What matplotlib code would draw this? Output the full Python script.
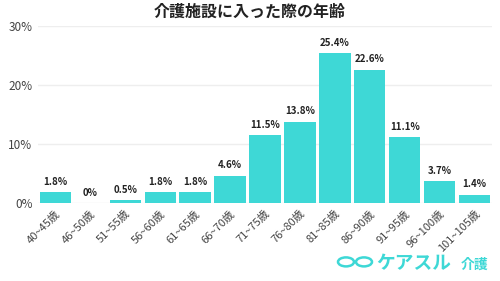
import matplotlib.pyplot as plt
from matplotlib.patches import Circle

plt.rcParams['font.family'] = ['Noto Sans CJK JP', 'DejaVu Sans']

labels = ['40~45歳', '46~50歳', '51~55歳', '56~60歳', '61~65歳', '66~70歳',
          '71~75歳', '76~80歳', '81~85歳', '86~90歳', '91~95歳', '96~100歳', '101~105歳']
values = [1.8, 0, 0.5, 1.8, 1.8, 4.6, 11.5, 13.8, 25.4, 22.6, 11.1, 3.7, 1.4]
value_text = ['1.8%', '0%', '0.5%', '1.8%', '1.8%', '4.6%', '11.5%', '13.8%',
              '25.4%', '22.6%', '11.1%', '3.7%', '1.4%']
yticks = [0, 10, 20, 30]

teal = '#3ED8D6'

fig = plt.figure(figsize=(5, 2.81), dpi=100)
ax = fig.add_axes([0.076, 0.278, 0.908, 0.629])

x = range(len(values))
bars = ax.bar(x, values, width=0.9, color=teal, zorder=2)
for b, t in zip(bars, value_text):
    ax.text(b.get_x() + b.get_width() / 2, b.get_height() + 0.9, t,
            ha='center', va='bottom', fontsize=7, fontweight='bold', color='#222222')

ax.set_xlim(-0.5, len(values) - 0.5)
ax.set_ylim(0, 30)
ax.set_yticks(yticks)
ax.set_yticklabels([f'{v}%' for v in yticks], fontsize=8.5, color='#444444')
ax.set_xticks(list(x))
ax.set_xticklabels(labels, rotation=45, ha='right', rotation_mode='anchor',
                   fontsize=8, color='#444444')
ax.tick_params(length=0, pad=4)
ax.grid(axis='y', color='#eeeeee', linewidth=1, zorder=0)
for s in ax.spines.values():
    s.set_visible(False)

fig.text(0.5, 0.957, '介護施設に入った際の年齢', ha='center', va='center',
         fontsize=11.5, fontweight='bold', color='#222222')

# logo
for cx in (0.692, 0.728):
    fig.patches.append(Circle((cx, 0.068), 0.016, transform=fig.transFigure,
                              fill=False, edgecolor=teal, linewidth=1.8))
fig.text(0.752, 0.062, 'ケアスル', ha='left', va='center', fontsize=13.5,
         fontweight='bold', color=teal)
fig.text(0.922, 0.058, '介護', ha='left', va='center', fontsize=10,
         fontweight='bold', color=teal)

fig.savefig('out.png', dpi=100)
